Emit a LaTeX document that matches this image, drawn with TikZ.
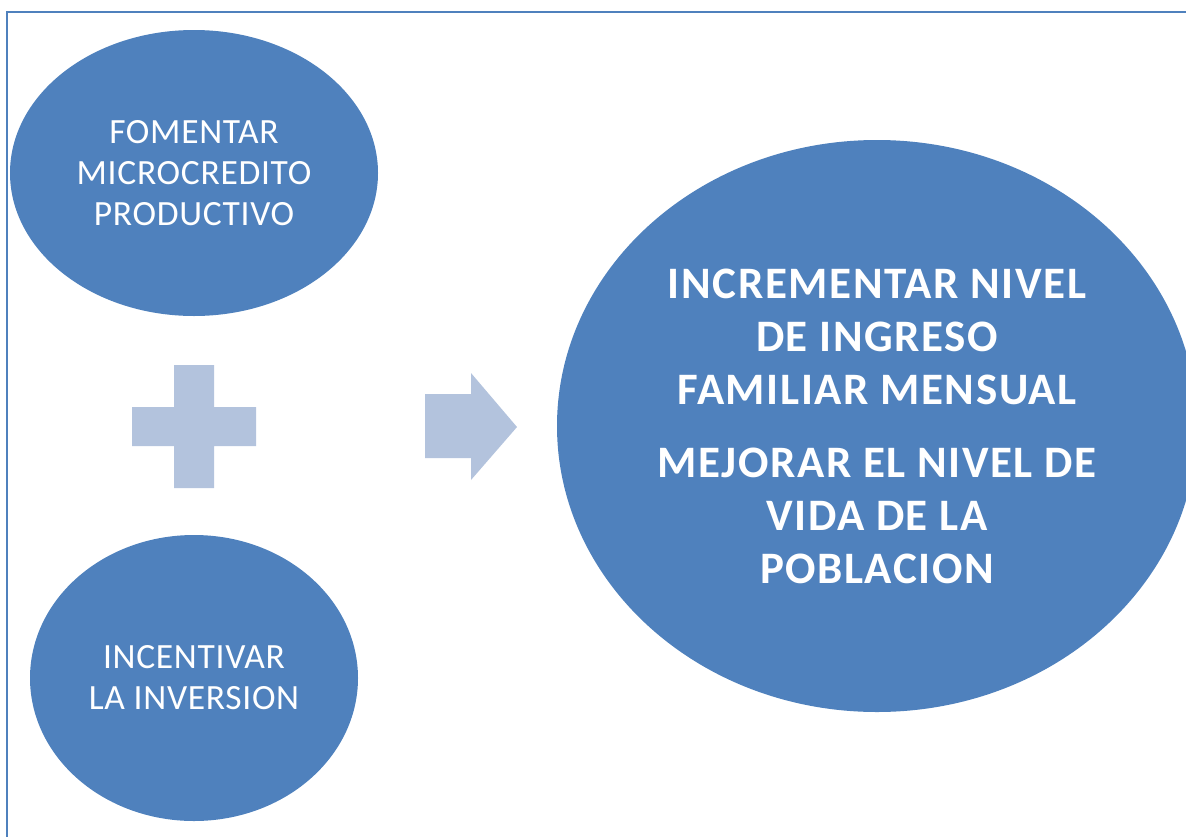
\documentclass[tikz,border=0pt]{standalone}
\usepackage{fontspec}
\setmainfont{Carlito}
\newfontfamily\blobfont[LetterSpace=2.0]{Carlito}
\newfontfamily\bigblobfont[LetterSpace=3.5]{Carlito}
\usetikzlibrary{shapes.geometric}
\definecolor{blobblue}{HTML}{4F81BD}
\definecolor{paleblue}{HTML}{B3C3DD}

\begin{document}
\begin{tikzpicture}[x=1pt,y=-1pt,
    blob/.style={ellipse,fill=blobblue,text=white,inner sep=0pt,align=center},
    small/.style={blob,font=\blobfont\fontsize{35.5}{41}\selectfont},
    big/.style={blob,font=\bigblobfont\fontsize{45}{53}\selectfont\bfseries}]

    \useasboundingbox (0,0) rectangle (1186,836);
    \clip (0,0) rectangle (1186,836);

    % frame
    \draw[blobblue,line width=2pt] (7,900) -- (7,12) -- (1250,12);

    \node[small,minimum width=368,minimum height=286] (fomentar) at (194,173)
        {FOMENTAR\\MICROCREDITO\\PRODUCTIVO};
    \node[small,minimum width=328,minimum height=286] (incentivar) at (194,678)
        {INCENTIVAR\\LA INVERSION};
    \node[big,minimum width=640,minimum height=572] (mejorar) at (877,426)
        {INCREMENTAR NIVEL\\DE INGRESO\\FAMILIAR MENSUAL\\[20pt]
         MEJORAR EL NIVEL DE\\VIDA DE LA\\POBLACION};

    % plus and arrow
    \fill[paleblue] (174,365) -- (214,365) -- (214,407) -- (256,407) -- (256,446)
        -- (214,446) -- (214,488) -- (174,488) -- (174,446) -- (132,446)
        -- (132,407) -- (174,407) -- cycle;
    \fill[paleblue] (425,394) -- (471,394) -- (471,373) -- (517,427)
        -- (471,480) -- (471,458) -- (425,458) -- cycle;
\end{tikzpicture}
\end{document}
